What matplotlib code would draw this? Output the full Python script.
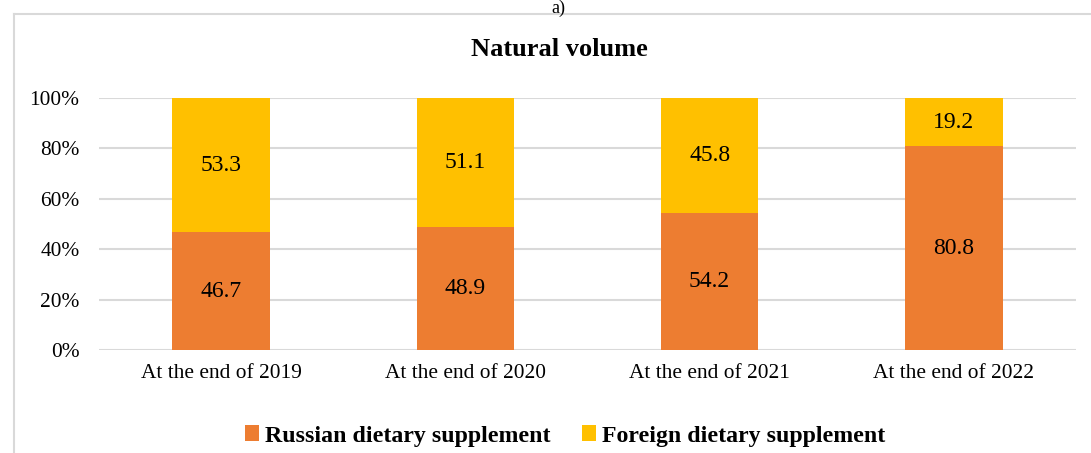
import numpy as np
import matplotlib.pyplot as plt
from matplotlib.lines import Line2D

plt.rcParams['font.family'] = ['Liberation Serif', 'DejaVu Serif']

categories = ['At the end of 2019', 'At the end of 2020', 'At the end of 2021', 'At the end of 2022']
russian = [46.7, 48.9, 54.2, 80.8]
foreign = [53.3, 51.1, 45.8, 19.2]
series_names = ['Russian dietary supplement', 'Foreign dietary supplement']

c_rus = '#ED7D31'
c_for = '#FFC000'
grid_c = '#d9d9d9'

fig = plt.figure(figsize=(10.91, 4.53), dpi=100)
ax = fig.add_axes([99 / 1091, 1 - 350 / 453, (1076 - 99) / 1091, (350 - 98) / 453])

x = np.arange(len(categories))
b1 = ax.bar(x, russian, width=0.4, color=c_rus, zorder=3)
b2 = ax.bar(x, foreign, width=0.4, bottom=russian, color=c_for, zorder=3)

for i in range(len(categories)):
    ax.text(x[i], russian[i] / 2, f'{russian[i]:.1f}', ha='center', va='center', fontsize=17, zorder=4)
    ax.text(x[i], russian[i] + foreign[i] / 2, f'{foreign[i]:.1f}', ha='center', va='center', fontsize=17, zorder=4)

ax.set_xlim(-0.5, len(categories) - 0.5)
ax.set_ylim(0, 100)
ax.set_yticks([0, 20, 40, 60, 80, 100])
ax.set_yticklabels([f'{v}%' for v in [0, 20, 40, 60, 80, 100]])
ax.set_xticks(x)
ax.set_xticklabels(categories)
ax.tick_params(axis='both', length=0, labelsize=15.4)
ax.tick_params(axis='y', pad=14)
ax.tick_params(axis='x', pad=10)
ax.yaxis.grid(True, color=grid_c, linewidth=1.5, zorder=0)
for s in ax.spines.values():
    s.set_visible(False)

fig.text(559 / 1091, 1 - 50 / 453, 'Natural volume', ha='center', va='center', fontsize=19, fontweight='bold')
fig.text(558 / 1091, 1.0, 'a)', ha='center', va='top', fontsize=13)

# outer chart frame (top and left edges visible)
fig.add_artist(Line2D([13.5 / 1091, 1.0], [1 - 14 / 453] * 2, color=grid_c, linewidth=1.5))
fig.add_artist(Line2D([13.5 / 1091] * 2, [0, 1 - 14 / 453], color=grid_c, linewidth=1.5))

fig.legend([b1, b2], series_names, loc='center', bbox_to_anchor=(565 / 1091, 1 - 436 / 453), ncol=2,
           frameon=False, prop={'weight': 'bold', 'size': 17.2}, handlelength=0.6, handleheight=0.6,
           handletextpad=0.25, columnspacing=1.3)

fig.savefig('out.png', dpi=100)
